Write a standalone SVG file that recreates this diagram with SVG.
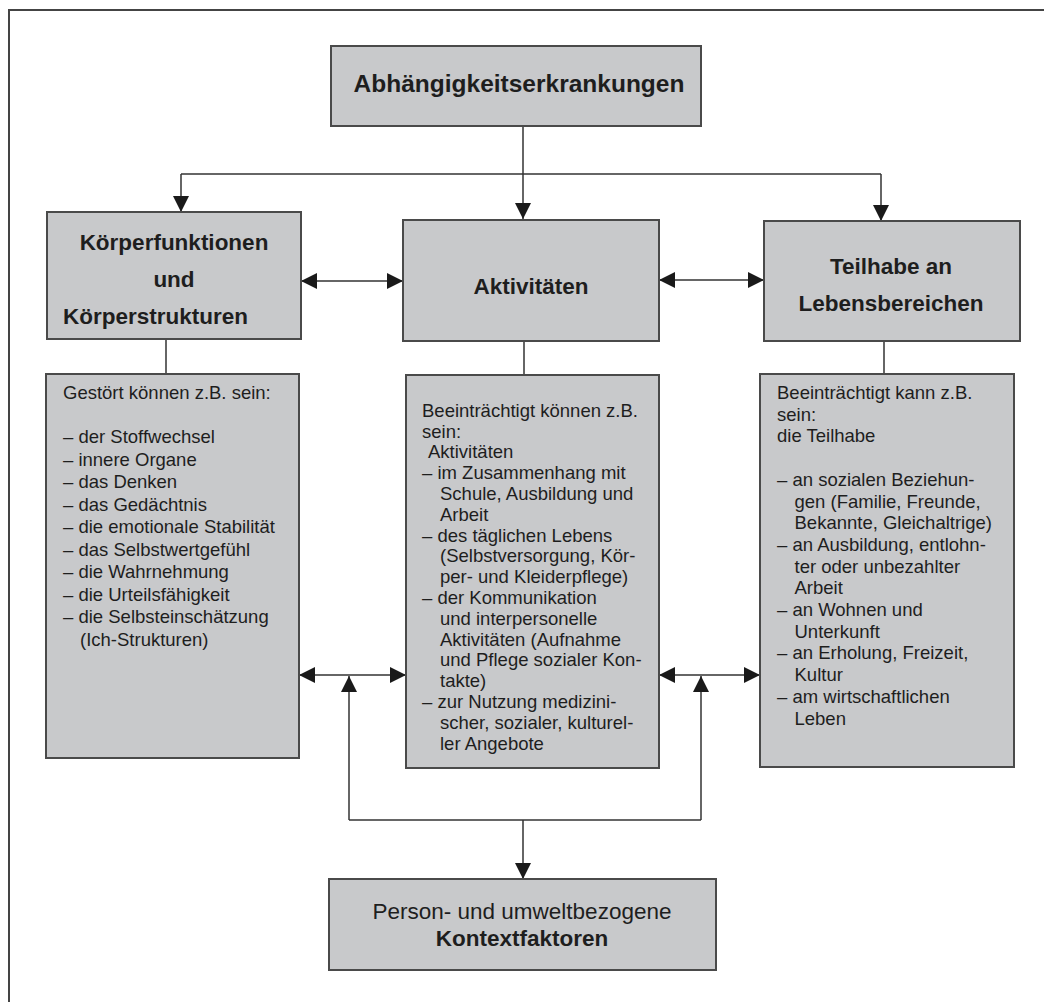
<svg xmlns="http://www.w3.org/2000/svg" width="1044" height="1002" viewBox="0 0 1044 1002">
<style>
.box{fill:#c8c9cb;stroke:#4a4a4a;stroke-width:2}
.t{font-family:"Liberation Sans",Arial,sans-serif;fill:#1e1e1e}
.h{font-size:22.5px;font-weight:bold}
.top{font-size:24.5px;font-weight:bold}
.b{font-size:18.5px}
.c{text-anchor:middle}
.ln{fill:none;stroke:#333;stroke-width:1.5}
</style>
<defs>
<marker id="ah" viewBox="0 0 16 16" refX="16" refY="8" markerWidth="16" markerHeight="16" markerUnits="userSpaceOnUse" orient="auto-start-reverse">
<path d="M0,0 L16,8 L0,16 z" fill="#1a1a1a"/>
</marker>
</defs>
<rect width="1044" height="1002" fill="#fff"/>
<path d="M9,1010 L9,10 L1050,10" fill="none" stroke="#444" stroke-width="2"/>

<g id="connectors">
<path class="ln" d="M523,126 L523,219" marker-end="url(#ah)"/>
<path class="ln" d="M181,174 L881,174"/>
<path class="ln" d="M181,174 L181,212" marker-end="url(#ah)"/>
<path class="ln" d="M881,174 L881,221" marker-end="url(#ah)"/>
<path class="ln" d="M301,281 L403,281" marker-start="url(#ah)" marker-end="url(#ah)"/>
<path class="ln" d="M659,280 L764,280" marker-start="url(#ah)" marker-end="url(#ah)"/>
<path class="ln" d="M166,339 L166,374"/>
<path class="ln" d="M524,341 L524,375"/>
<path class="ln" d="M884,341 L884,374"/>
<path class="ln" d="M299,675 L406,675" marker-start="url(#ah)" marker-end="url(#ah)"/>
<path class="ln" d="M659,675 L760,675" marker-start="url(#ah)" marker-end="url(#ah)"/>
<path class="ln" d="M349,820 L349,676" marker-end="url(#ah)"/>
<path class="ln" d="M701,820 L701,676" marker-end="url(#ah)"/>
<path class="ln" d="M349,820 L701,820"/>
<path class="ln" d="M523,820 L523,879" marker-end="url(#ah)"/>
</g>

<g id="n-abh">
<rect class="box" x="331" y="46" width="370" height="80"/>
<text class="t top c" x="519" y="92">Abhängigkeitserkrankungen</text>
</g>

<g id="n-koerper">
<rect class="box" x="47" y="212" width="254" height="127"/>
<text class="t h c" x="174" y="250">Körperfunktionen</text>
<text class="t h c" x="174" y="287">und</text>
<text class="t h" x="63" y="324">Körperstrukturen</text>
</g>

<g id="n-akt">
<rect class="box" x="403" y="220" width="256" height="121"/>
<text class="t h c" x="531" y="294">Aktivitäten</text>
</g>

<g id="n-teil">
<rect class="box" x="764" y="221" width="256" height="120"/>
<text class="t h c" x="891" y="274">Teilhabe an</text>
<text class="t h c" x="891" y="311">Lebensbereichen</text>
</g>

<g id="n-koerper-list">
<rect class="box" x="46" y="374" width="253" height="384"/>
<text class="t b" x="63" y="399">Gestört können z.B. sein:</text>
<text class="t b" x="63" y="443">– der Stoffwechsel</text>
<text class="t b" x="63" y="465.5">– innere Organe</text>
<text class="t b" x="63" y="488">– das Denken</text>
<text class="t b" x="63" y="510.5">– das Gedächtnis</text>
<text class="t b" x="63" y="533">– die emotionale Stabilität</text>
<text class="t b" x="63" y="555.5">– das Selbstwertgefühl</text>
<text class="t b" x="63" y="578">– die Wahrnehmung</text>
<text class="t b" x="63" y="600.5">– die Urteilsfähigkeit</text>
<text class="t b" x="63" y="623">– die Selbsteinschätzung</text>
<text class="t b" x="80" y="645.5">(Ich-Strukturen)</text>
</g>

<g id="n-akt-list">
<rect class="box" x="406" y="375" width="253" height="393"/>
<text class="t b" x="422" y="416.7">Beeinträchtigt können z.B.</text>
<text class="t b" x="422" y="437.5">sein:</text>
<text class="t b" x="428" y="458.3">Aktivitäten</text>
<text class="t b" x="422" y="479.1">– im Zusammenhang mit</text>
<text class="t b" x="440" y="499.9">Schule, Ausbildung und</text>
<text class="t b" x="440" y="520.7">Arbeit</text>
<text class="t b" x="422" y="541.5">– des täglichen Lebens</text>
<text class="t b" x="440" y="562.3">(Selbstversorgung, Kör-</text>
<text class="t b" x="440" y="583.1">per- und Kleiderpflege)</text>
<text class="t b" x="422" y="603.9">– der Kommunikation</text>
<text class="t b" x="440" y="624.7">und interpersonelle</text>
<text class="t b" x="440" y="645.5">Aktivitäten (Aufnahme</text>
<text class="t b" x="440" y="666.3">und Pflege sozialer Kon-</text>
<text class="t b" x="440" y="687.1">takte)</text>
<text class="t b" x="422" y="707.9">– zur Nutzung medizini-</text>
<text class="t b" x="440" y="728.7">scher, sozialer, kulturel-</text>
<text class="t b" x="440" y="749.5">ler Angebote</text>
</g>

<g id="n-teil-list">
<rect class="box" x="760" y="374" width="254" height="393"/>
<text class="t b" x="777" y="399">Beeinträchtigt kann z.B.</text>
<text class="t b" x="777" y="420.7">sein:</text>
<text class="t b" x="777" y="442.4">die Teilhabe</text>
<text class="t b" x="777" y="485.8">– an sozialen Beziehun-</text>
<text class="t b" x="794.5" y="507.5">gen (Familie, Freunde,</text>
<text class="t b" x="794.5" y="529.2">Bekannte, Gleichaltrige)</text>
<text class="t b" x="777" y="550.9">– an Ausbildung, entlohn-</text>
<text class="t b" x="794.5" y="572.6">ter oder unbezahlter</text>
<text class="t b" x="794.5" y="594.3">Arbeit</text>
<text class="t b" x="777" y="616">– an Wohnen und</text>
<text class="t b" x="794.5" y="637.7">Unterkunft</text>
<text class="t b" x="777" y="659.4">– an Erholung, Freizeit,</text>
<text class="t b" x="794.5" y="681.1">Kultur</text>
<text class="t b" x="777" y="702.8">– am wirtschaftlichen</text>
<text class="t b" x="794.5" y="724.5">Leben</text>
</g>

<g id="n-kontext">
<rect class="box" x="329" y="879" width="387" height="91"/>
<text class="t c" style="font-size:22.5px" x="522" y="919">Person- und umweltbezogene</text>
<text class="t h c" x="522" y="946">Kontextfaktoren</text>
</g>
</svg>
